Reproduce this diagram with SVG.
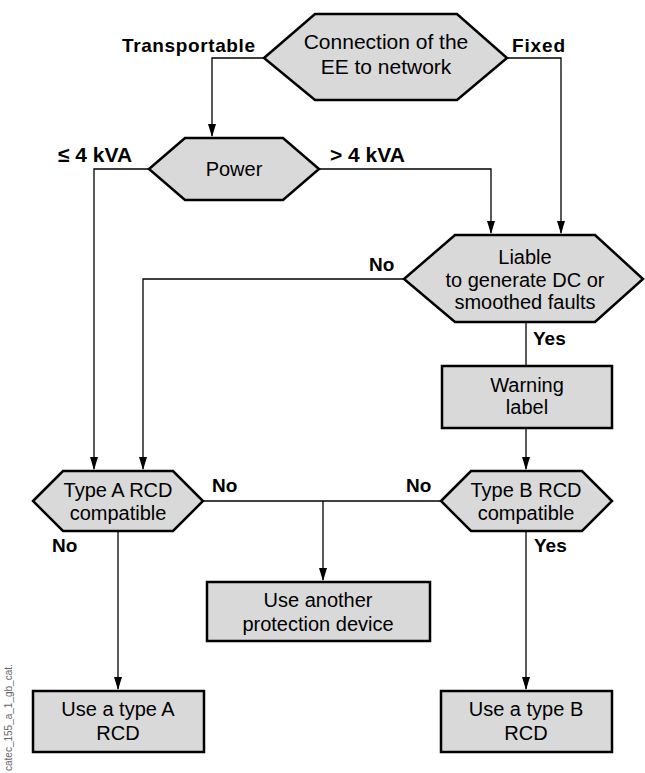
<svg xmlns="http://www.w3.org/2000/svg" width="645" height="773" viewBox="0 0 645 773">
<style>
.shape{fill:#d9d9d9;stroke:#000;stroke-width:2.5;stroke-linejoin:miter}
.t{font-family:"Liberation Sans",Arial,sans-serif;font-size:20px;fill:#000;text-anchor:middle}
.lbl{font-family:"Liberation Sans",Arial,sans-serif;font-size:19px;font-weight:bold;fill:#000}
.c{fill:none;stroke:#000;stroke-width:1.3}
</style>
<g id="connectors">
<path class="c" d="M264,58 H212 V136"/>
<path d="M208,124 L216,124 L212,137 Z"/>
<path class="c" d="M507,58 H561 V233"/>
<path d="M557,221 L565,221 L561,234 Z"/>
<path class="c" d="M149,169 H94 V469"/>
<path d="M90,457 L98,457 L94,470 Z"/>
<path class="c" d="M319,169 H491 V233"/>
<path d="M487,221 L495,221 L491,234 Z"/>
<path class="c" d="M404,279 H143 V469"/>
<path d="M139,457 L147,457 L143,470 Z"/>
<path class="c" d="M526,322 V366"/>
<path class="c" d="M526,428 V469"/>
<path d="M522,457 L530,457 L526,470 Z"/>
<path class="c" d="M203,501 H441"/>
<path class="c" d="M323,501 V580"/>
<path d="M319,568 L327,568 L323,581 Z"/>
<path class="c" d="M118,531 V689"/>
<path d="M114,677 L122,677 L118,690 Z"/>
<path class="c" d="M526,531 V689"/>
<path d="M522,677 L530,677 L526,690 Z"/>
</g>
<g id="labels">
<text class="lbl" x="122" y="52" textLength="133">Transportable</text>
<text class="lbl" x="512" y="52" textLength="53">Fixed</text>
<text class="lbl" x="58" y="162" style="font-size:21px">≤ 4 kVA</text>
<text class="lbl" x="330" y="162" style="font-size:21px">&gt; 4 kVA</text>
<text class="lbl" x="369" y="271">No</text>
<text class="lbl" x="533" y="345">Yes</text>
<text class="lbl" x="212" y="492">No</text>
<text class="lbl" x="406" y="492">No</text>
<text class="lbl" x="52" y="552">No</text>
<text class="lbl" x="534" y="552">Yes</text>
</g>
<g id="n-connection">
<polygon class="shape" points="264,58 315,14 457,14 507,58 457,100 315,100"/>
<text class="t" x="386" y="49" style="font-size:21px">Connection of the</text>
<text class="t" x="386" y="74" style="font-size:21px">EE to network</text>
</g>
<g id="n-power">
<polygon class="shape" points="149,169 185,138 283,138 319,169 283,200 185,200"/>
<text class="t" x="234" y="176">Power</text>
</g>
<g id="n-liable">
<polygon class="shape" points="404,279 455,235 595,235 643,279 595,322 455,322"/>
<text class="t" x="525" y="264">Liable</text>
<text class="t" x="525" y="287">to generate DC or</text>
<text class="t" x="525" y="309">smoothed faults</text>
</g>
<g id="n-warning">
<rect class="shape" x="442" y="366" width="170" height="62"/>
<text class="t" x="527" y="392">Warning</text>
<text class="t" x="527" y="414">label</text>
</g>
<g id="n-typeA">
<polygon class="shape" points="33,501 63,471 173,471 203,501 173,531 63,531"/>
<text class="t" x="118" y="497">Type A RCD</text>
<text class="t" x="118" y="520">compatible</text>
</g>
<g id="n-typeB">
<polygon class="shape" points="441,501 471,471 582,471 612,501 582,531 471,531"/>
<text class="t" x="526" y="497">Type B RCD</text>
<text class="t" x="526" y="520">compatible</text>
</g>
<g id="n-another">
<rect class="shape" x="207" y="582" width="223" height="59"/>
<text class="t" x="318" y="607">Use another</text>
<text class="t" x="318" y="631">protection device</text>
</g>
<g id="n-useA">
<rect class="shape" x="33" y="691" width="171" height="61"/>
<text class="t" x="118" y="716">Use a type A</text>
<text class="t" x="118" y="740">RCD</text>
</g>
<g id="n-useB">
<rect class="shape" x="441" y="691" width="171" height="61"/>
<text class="t" x="526" y="716">Use a type B</text>
<text class="t" x="526" y="740">RCD</text>
</g>
<text x="12" y="771" transform="rotate(-90 12 771)" style="font-family:'Liberation Sans',Arial,sans-serif;font-size:10px;fill:#666">catec_155_a_1_gb_cat.</text>
</svg>
